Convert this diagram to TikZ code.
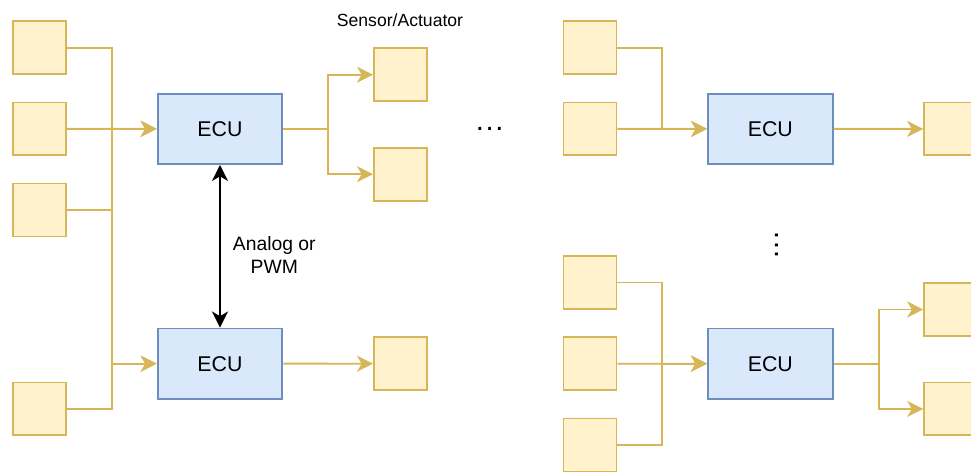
\documentclass[tikz,border=0pt]{standalone}
\usepackage{fontspec}
\setmainfont{Liberation Sans}
\usetikzlibrary{arrows.meta}
\definecolor{sensfill}{HTML}{FFF2CC}
\definecolor{sensline}{HTML}{D6B656}
\definecolor{ecufill}{HTML}{DAE8FC}
\definecolor{eculine}{HTML}{6C8EBF}

\begin{document}
\begin{tikzpicture}[x=0.75pt,y=-0.75pt,
  sensor/.style={draw=sensline, fill=sensfill, line width=1.4pt,
    minimum size=39.7pt, inner sep=0pt},
  ecu/.style={draw=eculine, fill=ecufill, line width=1.4pt,
    minimum width=93.6pt, minimum height=52.8pt, inner sep=0pt,
    font=\fontsize{16}{19}\selectfont},
  link/.style={draw=sensline, line width=1.4pt},
  feed/.style={link, -{Stealth[length=12pt,width=12pt,inset=3.5pt]}},
  signal/.style={draw=black, line width=1.5pt,
    {Stealth[length=12pt,width=12pt,inset=3.5pt]}-{Stealth[length=12pt,width=12pt,inset=3.5pt]}},
  dots/.style={inner sep=0pt, anchor=base, font=\fontsize{22}{22}\selectfont},
]
\useasboundingbox (0,0) rectangle (971,472);

% ---------- left cluster ----------
\node[sensor] (s1) at (39.8,47.8) {};
\node[sensor] (s2) at (39.8,128.9) {};
\node[sensor] (s3) at (39.8,210) {};
\node[sensor] (s4) at (39.8,408.9) {};
\node[ecu] (ecuA) at (220,128.85) {ECU};
\node[ecu] (ecuB) at (220,363.65) {ECU};
\node[sensor] (s5) at (400.4,74.7) {};
\node[sensor] (s6) at (400.4,174.2) {};
\node[sensor] (s7) at (400.4,363.7) {};

\coordinate (busL) at (112,0);
\coordinate (splitA) at (328.3,0);

\draw[feed] (s1.east) -- (s1.east -| busL) -- (busL |- ecuA.west) -- (ecuA.west);
\draw[feed] (s2.east) -- (ecuA.west);
\draw[feed] (s3.east) -- (s3.east -| busL) -- (busL |- ecuA.west) -- (ecuA.west);
\draw[feed] (s3.east) -- (s3.east -| busL) -- (busL |- ecuB.west) -- (ecuB.west);
\draw[feed] (s4.east) -- (s4.east -| busL) -- (busL |- ecuB.west) -- (ecuB.west);

\draw[feed] (ecuA.east) -- (ecuA.east -| splitA) -- (splitA |- s5.west) -- (s5.west);
\draw[feed] (ecuA.east) -- (ecuA.east -| splitA) -- (splitA |- s6.west) -- (s6.west);
\draw[feed] (ecuB.east) -- (s7.west);

\draw[signal] (ecuA.south) -- (ecuB.north);
\node[align=center, inner sep=0pt, anchor=base,
      font=\fontsize{14.5}{16.9}\selectfont] (siglabel) at (274.3,273)
      {Analog or\\PWM};

\node[anchor=base, inner sep=0pt, font=\fontsize{13.2}{15}\selectfont]
      (caption) at (400,26) {Sensor/Actuator};

% ---------- continuation marks ----------
\node[dots] (hdots) at (489.8,130.1) {.\hspace{1.2pt}.\hspace{1.2pt}.};
\node[dots, rotate=90] (vdots) at (778.1,245) {.\hspace{0.8pt}.\hspace{0.8pt}.};

% ---------- upper right cluster ----------
\node[sensor] (s8) at (590,47.8) {};
\node[sensor] (s9) at (590,128.9) {};
\node[ecu] (ecuC) at (770.35,128.85) {ECU};
\node[sensor] (s10) at (950.6,128.9) {};

\coordinate (busR) at (662.3,0);

\draw[feed] (s8.east) -- (s8.east -| busR) -- (busR |- ecuC.west) -- (ecuC.west);
\draw[feed] (s9.east) -- (ecuC.west);
\draw[feed] (ecuC.east) -- (s10.west);

% ---------- lower right cluster ----------
\node[sensor] (s11) at (590,282.5) {};
\node[sensor] (s12) at (590,363.8) {};
\node[sensor] (s13) at (590,445) {};
\node[ecu] (ecuD) at (770.35,363.65) {ECU};
\node[sensor] (s14) at (950.6,309.5) {};
\node[sensor] (s15) at (950.6,408.9) {};

\coordinate (splitD) at (878.7,0);

\draw[feed] (s11.east) -- (s11.east -| busR) -- (busR |- ecuD.west) -- (ecuD.west);
\draw[feed] (s12.east) -- (ecuD.west);
\draw[feed] (s13.east) -- (s13.east -| busR) -- (busR |- ecuD.west) -- (ecuD.west);

\draw[feed] (ecuD.east) -- (ecuD.east -| splitD) -- (splitD |- s14.west) -- (s14.west);
\draw[feed] (ecuD.east) -- (ecuD.east -| splitD) -- (splitD |- s15.west) -- (s15.west);
\end{tikzpicture}
\end{document}
